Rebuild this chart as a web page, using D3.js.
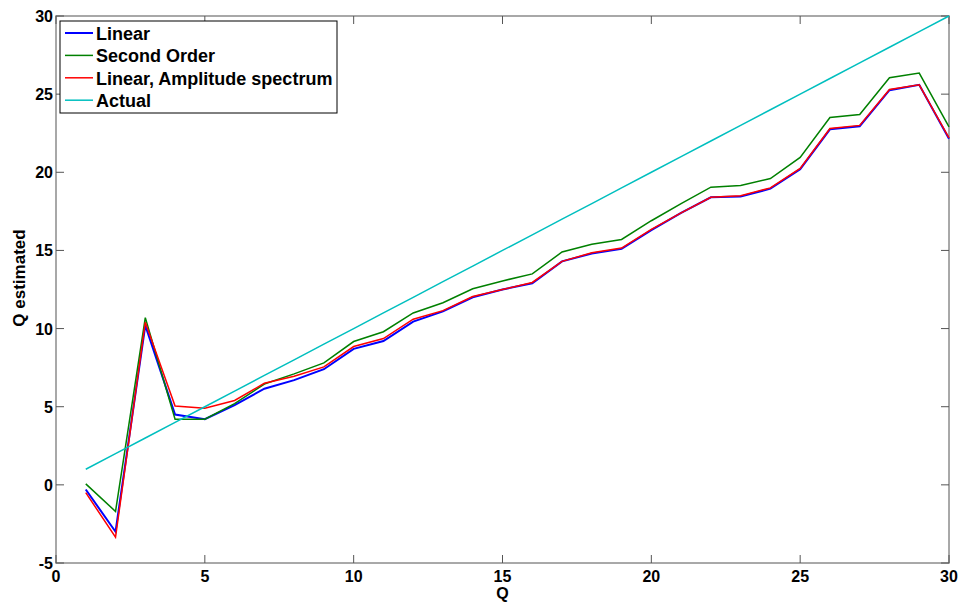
<!DOCTYPE html>
<html>
<head>
<script src="https://cdn.jsdelivr.net/npm/d3@7"></script>
<style>
  body { margin: 0; background: #fff; }
  text { font-family: "Liberation Sans", Arial, sans-serif; font-weight: bold; fill: #000; }
</style>
</head>
<body>
<svg id="chart" width="961" height="602"></svg>
<script>
var qValues = d3.range(1, 31);
var linear = [-0.3, -3.0, 10.2, 4.5, 4.2, 5.1, 6.15, 6.7, 7.4, 8.7,
              9.2, 10.45, 11.1, 12.0, 12.5, 12.9, 14.3, 14.8, 15.1, 16.3,
              17.4, 18.4, 18.45, 18.95, 20.2, 22.75, 22.95, 25.25, 25.6, 22.15];
var secondOrder = [0.06, -1.7, 10.7, 4.2, 4.2, 5.2, 6.45, 7.1, 7.8, 9.17,
                   9.8, 11.0, 11.65, 12.55, 13.05, 13.5, 14.9, 15.4, 15.7, 16.9,
                   18.0, 19.05, 19.15, 19.6, 20.95, 23.5, 23.7, 26.05, 26.35, 22.9];
var linearAmp = [-0.5, -3.35, 10.4, 5.05, 4.9, 5.4, 6.5, 6.95, 7.55, 8.85,
                 9.36, 10.6, 11.15, 12.05, 12.5, 12.95, 14.3, 14.85, 15.15, 16.35,
                 17.4, 18.4, 18.5, 19.0, 20.25, 22.8, 23.0, 25.3, 25.6, 22.2];
var actual = qValues.slice();

var xTicks = [0, 5, 10, 15, 20, 25, 30];
var yTicks = [-5, 0, 5, 10, 15, 20, 25, 30];

var seriesNames = ["Linear", "Second Order", "Linear, Amplitude spectrum", "Actual"];
var seriesData = [linear, secondOrder, linearAmp, actual];
var seriesColors = ["#0000ff", "#008000", "#ff0000", "#00bfbf"];
var seriesWidths = [2, 1.5, 1.5, 1.5];

var mLeft = 56, mRight = 949, mTop = 16, mBottom = 563;
var svg = d3.select("#chart");

var x = d3.scaleLinear().domain([0, 30]).range([mLeft, mRight]);
var y = d3.scaleLinear().domain([-5, 30]).range([mBottom, mTop]);

// frame and ticks (MATLAB style, ticks inward on all four sides)
svg.append("rect")
  .attr("x", mLeft).attr("y", mTop)
  .attr("width", mRight - mLeft).attr("height", mBottom - mTop)
  .attr("fill", "none").attr("stroke", "#8c8c8c").attr("stroke-width", 1.5);

var tickLen = 8;
var axisG = svg.append("g").attr("stroke", "#555").attr("stroke-width", 1);
xTicks.forEach(function(t) {
  axisG.append("line").attr("x1", x(t)).attr("x2", x(t)).attr("y1", mBottom).attr("y2", mBottom - tickLen);
  axisG.append("line").attr("x1", x(t)).attr("x2", x(t)).attr("y1", mTop).attr("y2", mTop + tickLen);
});
yTicks.forEach(function(t) {
  axisG.append("line").attr("x1", mLeft).attr("x2", mLeft + tickLen).attr("y1", y(t)).attr("y2", y(t));
  axisG.append("line").attr("x1", mRight).attr("x2", mRight - tickLen).attr("y1", y(t)).attr("y2", y(t));
});

svg.append("g").selectAll("text").data(xTicks).enter().append("text")
  .attr("x", function(d) { return x(d); })
  .attr("y", mBottom + 19)
  .attr("text-anchor", "middle")
  .style("font-size", "16px")
  .text(function(d) { return d; });

svg.append("g").selectAll("text").data(yTicks).enter().append("text")
  .attr("x", mLeft - 3)
  .attr("y", function(d) { return y(d) + 6; })
  .attr("text-anchor", "end")
  .style("font-size", "16px")
  .text(function(d) { return d; });

svg.append("text")
  .attr("x", (mLeft + mRight) / 2).attr("y", 599)
  .attr("text-anchor", "middle").style("font-size", "16px").text("Q");

svg.append("text")
  .attr("transform", "translate(25,278) rotate(-90)")
  .attr("text-anchor", "middle").style("font-size", "17px").text("Q estimated");

// lines
var line = d3.line()
  .x(function(d, i) { return x(qValues[i]); })
  .y(function(d) { return y(d); });

seriesData.forEach(function(s, k) {
  svg.append("path")
    .attr("d", line(s))
    .attr("fill", "none")
    .attr("stroke", seriesColors[k])
    .attr("stroke-width", seriesWidths[k]);
});

// legend
var lg = svg.append("g").attr("transform", "translate(60,21)");
lg.append("rect").attr("width", 277).attr("height", 92)
  .attr("fill", "#fff").attr("stroke", "#000").attr("stroke-width", 1);
seriesNames.forEach(function(n, k) {
  var yy = 12 + k * 22.4;
  lg.append("line").attr("x1", 5).attr("x2", 33).attr("y1", yy).attr("y2", yy)
    .attr("stroke", seriesColors[k]).attr("stroke-width", seriesWidths[k]);
  lg.append("text").attr("x", 36).attr("y", yy + 7)
    .style("font-size", "18px").text(n);
});
</script>
</body>
</html>
